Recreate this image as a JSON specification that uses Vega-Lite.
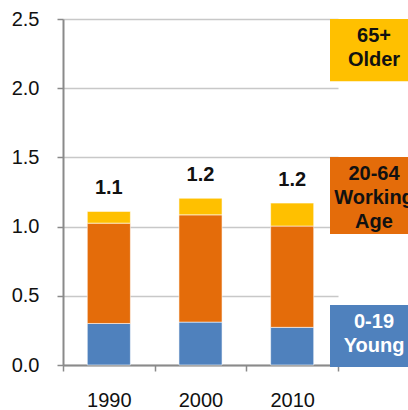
{
  "$schema": "https://vega.github.io/schema/vega-lite/v6.json",
  "autosize": "none",
  "width": 275,
  "height": 346,
  "padding": {"left": 63, "top": 19, "right": 70, "bottom": 45},
  "background": "white",
  "config": {
    "view": {"stroke": null},
    "font": "Liberation Sans",
    "axis": {
      "labelFont": "Liberation Sans",
      "labelFontSize": 20,
      "labelColor": "#111111",
      "domainColor": "#8a8a8a",
      "domainWidth": 2,
      "tickColor": "#8a8a8a",
      "tickWidth": 1.5,
      "tickSize": 6,
      "title": null
    }
  },
  "datasets": {
    "pop": [
      {"year": "1990", "group": "0-19 Young", "value": 0.30},
      {"year": "1990", "group": "20-64 Working Age", "value": 0.725},
      {"year": "1990", "group": "65+ Older", "value": 0.085},
      {"year": "2000", "group": "0-19 Young", "value": 0.31},
      {"year": "2000", "group": "20-64 Working Age", "value": 0.775},
      {"year": "2000", "group": "65+ Older", "value": 0.12},
      {"year": "2010", "group": "0-19 Young", "value": 0.272},
      {"year": "2010", "group": "20-64 Working Age", "value": 0.732},
      {"year": "2010", "group": "65+ Older", "value": 0.166}
    ],
    "legendBoxes": [
      {"group": "65+ Older", "top": 2.5, "bottom": 2.05},
      {"group": "20-64 Working Age", "top": 1.503, "bottom": 0.947},
      {"group": "0-19 Young", "top": 0.434, "bottom": -0.014}
    ]
  },
  "layer": [
    {
      "data": {"name": "pop"},
      "mark": {"type": "bar", "width": {"band": 0.47}, "stroke": "white", "strokeWidth": 0.8, "strokeOpacity": 0.7},
      "encoding": {
        "x": {
          "field": "year", "type": "nominal",
          "scale": {"paddingInner": 0, "paddingOuter": 0},
          "axis": {"labelAngle": 0, "labelPadding": 19, "tickBand": "extent", "grid": false}
        },
        "y": {
          "field": "value", "type": "quantitative", "stack": "zero",
          "scale": {"domain": [0, 2.5], "nice": false},
          "axis": {
            "values": [0, 0.5, 1, 1.5, 2, 2.5], "format": ".1f",
            "labelPadding": 18, "grid": true, "gridColor": "#c8c8c8", "gridWidth": 1.5
          }
        },
        "color": {
          "field": "group", "type": "nominal",
          "scale": {
            "domain": ["0-19 Young", "20-64 Working Age", "65+ Older"],
            "range": ["#4F81BD", "#E46C0A", "#FFC000"]
          },
          "legend": null
        },
        "order": {"field": "group", "sort": "ascending"}
      }
    },
    {
      "data": {"name": "pop"},
      "transform": [{"aggregate": [{"op": "sum", "field": "value", "as": "total"}], "groupby": ["year"]}],
      "mark": {"type": "text", "fontSize": 20, "fontWeight": "bold", "baseline": "middle", "dy": -23, "color": "#111111"},
      "encoding": {
        "x": {"field": "year", "type": "nominal"},
        "y": {"field": "total", "type": "quantitative"},
        "text": {"field": "total", "type": "quantitative", "format": ".1f"}
      }
    },
    {
      "data": {"name": "legendBoxes"},
      "mark": {"type": "rect", "xOffset": -8, "x2Offset": 80, "clip": false},
      "encoding": {
        "x": {"value": "width"},
        "x2": {"value": "width"},
        "y": {"field": "top", "type": "quantitative"},
        "y2": {"field": "bottom"},
        "color": {"field": "group", "type": "nominal", "legend": null}
      }
    },
    {
      "data": {"name": "legendBoxes"},
      "mark": {"type": "text", "fontSize": 20, "fontWeight": "bold", "lineBreak": " ", "lineHeight": 24, "align": "center", "baseline": "middle", "xOffset": 36, "dy": 17},
      "encoding": {
        "x": {"value": "width"},
        "y": {"field": "top", "type": "quantitative"},
        "text": {"field": "group"},
        "color": {"condition": {"test": "datum.group === '0-19 Young'", "value": "white"}, "value": "#111111"}
      }
    }
  ]
}
